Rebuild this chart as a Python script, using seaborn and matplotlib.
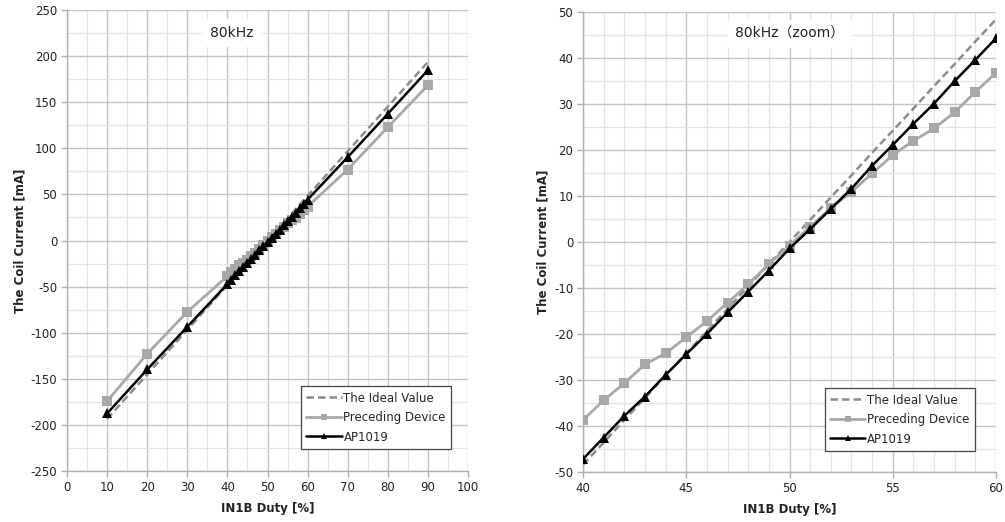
import matplotlib
matplotlib.use("Agg")
import matplotlib.pyplot as plt
import seaborn as sns
import pandas as pd
from matplotlib.ticker import MultipleLocator

# ---- data ----
duty_full = [10, 20, 30, 40, 41, 42, 43, 44, 45, 46, 47, 48, 49, 50,
             51, 52, 53, 54, 55, 56, 57, 58, 59, 60, 70, 80, 90]
ideal_full = [-193.6, -145.2, -96.8, -48.4, -43.6, -38.7, -33.9, -29.0, -24.2, -19.4,
              -14.5, -9.7, -4.8, 0.0, 4.8, 9.7, 14.5, 19.4, 24.2, 29.0, 33.9, 38.7,
              43.6, 48.4, 96.8, 145.2, 193.6]
preceding_full = [-174.3, -122.9, -77.4, -38.7, -34.4, -30.7, -26.6, -24.2, -20.7, -17.2,
                  -13.2, -9.2, -4.8, -0.8, 3.3, 7.4, 10.9, 14.9, 18.9, 22.0, 24.7, 28.2,
                  32.6, 36.8, 77.0, 122.9, 168.4]
ap1019_full = [-187.6, -139.9, -93.6, -47.2, -42.5, -37.8, -33.6, -28.9, -24.4, -20.0,
               -15.3, -10.8, -6.2, -1.4, 2.8, 7.2, 11.6, 16.6, 21.1, 25.7, 30.1, 35.0,
               39.6, 44.3, 90.4, 137.4, 184.7]
series_names = ["The Ideal Value", "Preceding Device", "AP1019"]
titles = ["80kHz", "80kHz\uff08zoom\uff09"]
xlabel = "IN1B Duty [%]"
ylabel = "The Coil Current [mA]"

sns.set_theme(style="white")
plt.rcParams['font.family'] = ['DejaVu Sans', 'Noto Sans CJK JP']
plt.rcParams['axes.unicode_minus'] = False

df = pd.DataFrame({"duty": duty_full, "ideal": ideal_full,
                   "preceding": preceding_full, "ap": ap1019_full})
df_zoom = df[(df.duty >= 40) & (df.duty <= 60)]

fig = plt.figure(figsize=(10.05, 5.22), dpi=100)
ax1 = fig.add_axes([67/1005, 1-471/522, (468-67)/1005, (471-10)/522])
ax2 = fig.add_axes([583/1005, 1-472/522, (996-583)/1005, (472-12)/522])

cfgs = [
    (ax1, df, (0, 100), (-250, 250), 10, 5, 50, 25, (0.958, 0.048), (232, 33)),
    (ax2, df_zoom, (40, 60), (-50, 50), 5, 1, 10, 5, (0.949, 0.046), (790, 34)),
]

for i, (ax, d, xl, yl, xmaj, xmin, ymaj, ymin, lpos, tpos) in enumerate(cfgs):
    sns.lineplot(data=d, x="duty", y="ideal", ax=ax, color="#8c8c8c",
                 linestyle=(0, (3, 1.6)), lw=1.8, label=series_names[0], zorder=3)
    sns.lineplot(data=d, x="duty", y="preceding", ax=ax, color="#a8a8a8",
                 marker="s", markersize=6.5, markeredgewidth=0, lw=2,
                 label=series_names[1], zorder=4)
    sns.lineplot(data=d, x="duty", y="ap", ax=ax, color="black",
                 marker="^", markersize=7, markeredgewidth=0, lw=1.8,
                 label=series_names[2], zorder=5)
    ax.set_xlim(*xl)
    ax.set_ylim(*yl)
    ax.xaxis.set_major_locator(MultipleLocator(xmaj))
    ax.xaxis.set_minor_locator(MultipleLocator(xmin))
    ax.yaxis.set_major_locator(MultipleLocator(ymaj))
    ax.yaxis.set_minor_locator(MultipleLocator(ymin))
    ax.grid(which="major", color="#c4c4c4", lw=1.0, zorder=0)
    ax.grid(which="minor", color="#e4e4e4", lw=0.9, zorder=0)
    ax.set_axisbelow(True)
    for s in ["top", "right"]:
        ax.spines[s].set_visible(False)
    for s in ["left", "bottom"]:
        ax.spines[s].set_color("#b0b0b0")
        ax.spines[s].set_linewidth(1.0)
    ax.tick_params(which="major", direction="out", length=4, width=1,
                   color="#b0b0b0", labelsize=8.5, labelcolor="#222222",
                   left=True, bottom=True, pad=3)
    ax.tick_params(which="minor", length=0)
    ax.set_xlabel(xlabel, fontsize=8.5, fontweight="bold", color="#222222", labelpad=6)
    ax.set_ylabel(ylabel, fontsize=8.5, fontweight="bold", color="#222222", labelpad=3)
    leg = ax.legend(loc="lower right", bbox_to_anchor=lpos, fontsize=8.5,
                    frameon=True, fancybox=False, framealpha=1, edgecolor="#444444",
                    handlelength=3.0, handletextpad=0.15, borderpad=0.45,
                    labelspacing=0.55, markerscale=0.7, borderaxespad=0)
    leg.get_frame().set_linewidth(0.9)
    leg.set_zorder(10)
    fig.text(tpos[0]/1005, 1-tpos[1]/522, titles[i], ha="center", va="center",
             fontsize=10, color="#222222",
             bbox=dict(facecolor="white", edgecolor="none", pad=5))

fig.savefig("out.png", dpi=100)
